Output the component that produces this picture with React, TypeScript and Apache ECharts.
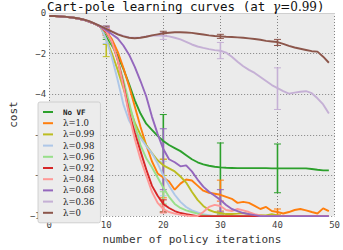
import React, { useEffect, useRef } from "react";
import * as echarts from "echarts";

const iterations = Array.from({ length: 50 }, (_, i) => i);

const seriesNames = ["No VF", "λ=1.0", "λ=0.99", "λ=0.98", "λ=0.96", "λ=0.92", "λ=0.84", "λ=0.68", "λ=0.36", "λ=0"];
const colors = ["#2ca02c", "#ff7f0e", "#bcbd22", "#aec7e8", "#98df8a", "#d62728", "#ff9896", "#9467bd", "#c5b0d5", "#8c564b"];

const startCommon = [-0.15, -0.15, -0.17, -0.19, -0.22, -0.27, -0.33, -0.42, -0.53, -0.68];

const noVF = [...startCommon, -1.15, -1.6, -2.1, -2.75, -3.5, -4.3, -4.95, -5.45, -5.75, -6.05, -6.3, -6.5, -6.65, -6.8, -7.0, -7.2, -7.35, -7.45, -7.52, -7.57, -7.6, -7.62, -7.63, -7.64, -7.64, -7.64, -7.64, -7.64, -7.64, -7.65, -7.65, -7.65, -7.65, -7.65, -7.65, -7.65, -7.68, -7.72, -7.75, -7.75];
const lam100 = [...startCommon, -0.9, -1.3, -1.9, -2.7, -3.6, -4.6, -5.6, -6.5, -7.3, -7.9, -8.1, -8.3, -8.7, -8.4, -8.2, -8.25, -8.5, -8.75, -8.85, -8.9, -8.95, -9.05, -9.15, -9.35, -9.3, -9.35, -9.5, -9.65, -9.55, -9.75, -9.8, -9.87, -9.8, -9.7, -9.65, -9.72, -9.8, -9.87, -9.62, -9.75];
const lam099 = [...startCommon, -1.3, -2.0, -2.8, -3.7, -4.6, -5.4, -6.0, -6.5, -6.9, -7.25, -7.5, -7.65, -7.8, -8.05, -8.35, -8.8, -9.2, -9.5, -9.7, -9.8, -9.85, -9.9, -9.9, -9.88, -9.85, -9.9, -9.95, -9.95, -9.97, -9.9, -9.97, -10, -10, -10, -10, -10, -10, -10, -10, -10];
const lam098 = [...startCommon, -1.3, -2.2, -3.3, -4.5, -5.3, -5.8, -6.15, -6.55, -6.9, -7.4, -8.0, -8.5, -8.95, -9.3, -9.55, -9.72, -9.82, -9.9, -9.95, -10, -10, -10, -10, -10, -10, -10, -10, -10, -10, -10, -10, -10, -10, -10, -10, -10, -10, -10, -10, -10];
const lam096 = [...startCommon, -1.0, -1.5, -2.3, -3.3, -4.4, -5.5, -6.5, -7.15, -7.6, -8.1, -8.6, -9.05, -9.4, -9.6, -9.72, -9.8, -9.88, -9.95, -10, -10, -10, -10, -10, -10, -10, -10, -10, -10, -10, -10, -10, -10, -10, -10, -10, -10, -10, -10, -10, -10];
const lam092 = [...startCommon, -0.95, -1.4, -2.3, -3.5, -4.9, -5.9, -6.8, -7.7, -8.5, -9.0, -9.4, -9.6, -9.75, -9.85, -9.9, -9.95, -10, -10, -10, -10, -10, -10, -10, -10, -10, -10, -10, -10, -10, -10, -10, -10, -10, -10, -10, -10, -10, -10, -10, -10];
const lam084 = [...startCommon, -0.9, -1.4, -2.3, -3.6, -5.0, -6.2, -7.2, -8.0, -8.8, -9.35, -9.65, -9.8, -9.88, -9.93, -9.97, -10, -10, -9.8, -9.55, -9.45, -9.5, -9.7, -9.75, -9.65, -9.72, -9.8, -9.9, -9.97, -10, -10, -10, -10, -10, -10, -10, -10, -10, -10, -10, -10];
const lam068 = [...startCommon, -0.85, -1.05, -1.25, -1.6, -2.05, -2.65, -3.35, -4.1, -5.1, -5.95, -6.7, -7.2, -7.35, -7.55, -7.5, -7.8, -8.2, -8.55, -8.8, -9.0, -9.2, -9.45, -9.65, -9.75, -9.85, -9.9, -9.95, -10, -10, -10, -10, -10, -10, -10, -10, -10, -10, -10, -10, -10];
const lam036 = [-0.15, -0.15, -0.17, -0.19, -0.22, -0.26, -0.32, -0.4, -0.52, -0.65, -0.75, -0.9, -1.03, -1.13, -1.2, -1.22, -1.2, -1.16, -1.12, -1.1, -1.12, -1.15, -1.22, -1.3, -1.42, -1.55, -1.65, -1.72, -1.78, -1.83, -1.86, -1.95, -2.15, -2.4, -2.62, -2.8, -2.95, -3.15, -3.35, -3.55, -3.7, -3.85, -3.97, -3.92, -3.88, -3.85, -3.95, -4.2, -4.5, -4.95];
const lam000 = [-0.15, -0.15, -0.17, -0.19, -0.22, -0.26, -0.32, -0.4, -0.52, -0.65, -0.78, -0.92, -1.05, -1.15, -1.22, -1.24, -1.22, -1.17, -1.1, -1.05, -1.0, -0.97, -0.95, -0.95, -0.96, -0.98, -1.02, -1.06, -1.1, -1.13, -1.15, -1.17, -1.18, -1.2, -1.22, -1.25, -1.28, -1.32, -1.37, -1.4, -1.43, -1.52, -1.62, -1.7, -1.76, -1.82, -1.88, -1.9, -2.15, -2.45];

// error bars: [iteration, low, high]
const errNoVF = [[10, -1.3, -1.0], [20, -9.8, -5.0], [30, -9.9, -6.4], [40, -8.85, -6.45]];
const err100 = [[10, -1.05, -0.75], [20, -9.1, -7.2], [30, -9.27, -8.23], [40, -9.95, -9.65]];
const err099 = [[10, -2.15, -1.55], [20, -8.0, -7.2], [30, -9.95, -9.75], [40, -10, -9.95]];
const err098 = [[10, -1.5, -1.1], [20, -9.0, -7.3], [30, -10, -9.95], [40, -10, -10]];
const err096 = [[10, -1.2, -0.8], [20, -9.4, -8.8], [30, -10, -9.97], [40, -10, -10]];
const err092 = [[10, -1.1, -0.8], [20, -9.8, -9.2], [30, -10, -9.97], [40, -10, -10]];
const err084 = [[10, -1.05, -0.75], [20, -9.85, -9.45], [30, -9.75, -9.25], [40, -10, -10]];
const err068 = [[10, -1.0, -0.7], [20, -8.7, -5.7], [30, -9.8, -8.7], [40, -10, -10]];
const err036 = [[10, -0.85, -0.62], [20, -1.3, -0.95], [30, -2.25, -1.45], [40, -4.75, -2.7]];
const err000 = [[10, -0.9, -0.65], [20, -1.1, -0.9], [30, -1.25, -1.05], [40, -1.6, -1.3]];

const xTicks = [0, 10, 20, 30, 40, 50];
const yTicks = [0, -2, -4, -6, -8, -10];

const lineData = [noVF, lam100, lam099, lam098, lam096, lam092, lam084, lam068, lam036, lam000];
const errData = [errNoVF, err100, err099, err098, err096, err092, err084, err068, err036, err000];

const mono = "DejaVu Sans Mono";
const serif = "DejaVu Serif";

export default function App() {
  const ref = useRef<HTMLDivElement>(null);
  useEffect(() => {
    if (!ref.current) return;
    const chart = echarts.init(ref.current, null, { renderer: "svg" });
    const series: any[] = [];
    seriesNames.forEach((name, k) => {
      series.push({
        type: "line",
        name,
        data: iterations.map((it, i) => [it, lineData[k][i]]),
        showSymbol: false,
        symbol: "none",
        lineStyle: { color: colors[k], width: 1.9 },
        itemStyle: { color: colors[k] },
        z: 2,
      });
      series.push({
        type: "custom",
        name: name + " err",
        data: errData[k],
        encode: { x: 0, y: [1, 2] },
        z: 2,
        renderItem: (params: any, api: any) => {
          const x = api.value(0);
          const lo = api.value(1);
          const hi = api.value(2);
          const p1 = api.coord([x, hi]);
          const p2 = api.coord([x, lo]);
          const hw = 3.5;
          const style = { stroke: colors[k], lineWidth: 1.6 };
          return {
            type: "group",
            children: [
              { type: "line", shape: { x1: p1[0], y1: p1[1], x2: p2[0], y2: p2[1] }, style },
              { type: "line", shape: { x1: p1[0] - hw, y1: p1[1], x2: p1[0] + hw, y2: p1[1] }, style: { ...style, lineWidth: 1 } },
              { type: "line", shape: { x1: p2[0] - hw, y1: p2[1], x2: p2[0] + hw, y2: p2[1] }, style: { ...style, lineWidth: 1 } },
            ],
          };
        },
      });
    });

    chart.setOption({
      animation: false,
      backgroundColor: "#ffffff",
      title: {
        text: "{m|Cart-pole learning curves (at }{g|γ}{s|=0.99}{m|)}",
        left: 47,
        top: 0,
        padding: 0,
        textStyle: {
          fontWeight: "normal",
          rich: {
            m: { fontFamily: mono, fontSize: 12.5, fontWeight: "normal", color: "#111" },
            g: { fontFamily: serif, fontStyle: "italic", fontWeight: "normal", fontSize: 12.5, color: "#111" },
            s: { fontFamily: serif, fontSize: 12, fontWeight: "normal", color: "#111" },
          },
        },
      },
      legend: {
        data: seriesNames,
        orient: "vertical",
        left: 38,
        top: 102,
        padding: [5, 6, 5, 5],
        itemGap: 1.2,
        itemWidth: 10,
        itemHeight: 2,
        icon: "rect",
        backgroundColor: "#ececec",
        borderColor: "#c8c8c8",
        borderWidth: 0.8,
        borderRadius: 2,
        formatter: (name: string) => (name === "No VF" ? "{b|No VF}" : "{s|" + name + "}"),
        textStyle: {
          lineHeight: 10,
          rich: {
            b: { fontFamily: mono, fontWeight: "bold", fontSize: 7.5, lineHeight: 10, color: "#222", padding: [0, 0, 0, 5] },
            s: { fontFamily: serif, fontSize: 8.5, lineHeight: 10, color: "#222", padding: [0, 0, 0, 5] },
          },
        },
      },
      grid: { left: 35, right: 6, top: 13, bottom: 28, show: true, backgroundColor: "#ebebeb", borderWidth: 0 },
      xAxis: {
        type: "value",
        min: 0,
        max: 50,
        interval: 10,
        name: "number of policy iterations",
        nameLocation: "middle",
        nameGap: 16,
        nameTextStyle: { fontFamily: mono, fontSize: 11, color: "#333" },
        axisLine: { show: true, lineStyle: { color: "#cfcfcf", width: 1 } },
        axisTick: { show: false },
        axisLabel: {
          fontFamily: mono,
          fontSize: 9,
          color: "#444",
          margin: 4,
          formatter: (v: number) => (xTicks.includes(v) ? String(v) : ""),
        },
        splitLine: { show: true, lineStyle: { color: "#666", type: [1, 2], width: 0.8 } },
      },
      yAxis: {
        type: "value",
        min: -10,
        max: 0,
        interval: 2,
        name: "cost",
        nameLocation: "middle",
        nameGap: 23,
        nameTextStyle: { fontFamily: mono, fontSize: 11, color: "#333" },
        axisLine: { show: false },
        axisTick: { show: false },
        axisLabel: {
          fontFamily: mono,
          fontSize: 9,
          color: "#444",
          margin: 3,
          formatter: (v: number) => (yTicks.includes(v) ? (v < 0 ? "−" + -v : String(v)) : ""),
        },
        splitLine: { show: true, lineStyle: { color: "#666", type: [1, 2], width: 0.8 } },
      },
      series,
    });
    return () => chart.dispose();
  }, []);
  return <div ref={ref} style={{ width: 343, height: 250, position: "absolute", left: 0, top: 0 }} />;
}
